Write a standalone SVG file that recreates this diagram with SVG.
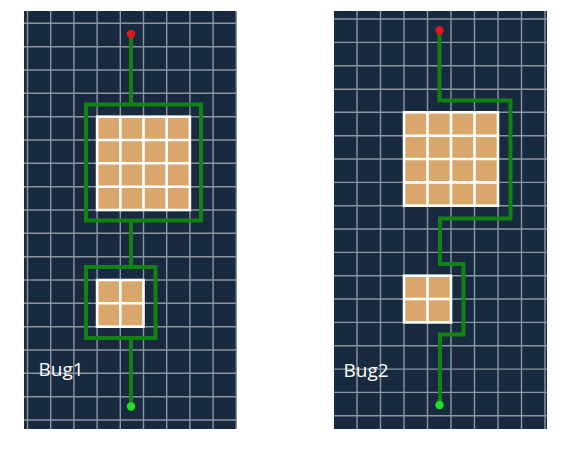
<svg xmlns="http://www.w3.org/2000/svg" width="569" height="454" viewBox="0 0 569 454">
<style>
.bg{fill:#172a40}
.grid{stroke:#ffffff;stroke-opacity:0.5;stroke-width:1.4;fill:none}
.tan{fill:#d9a76b;stroke:#ffffff;stroke-width:2.6}
.sep{stroke:#ffffff;stroke-width:2.6;fill:none}
.wire{stroke:#128212;stroke-width:4;fill:none;stroke-linejoin:miter}
.start{fill:#e3161c}
.end{fill:#22e022}
.lbl{font-family:"Open Sans","Liberation Sans",sans-serif;font-size:19px;font-weight:400;fill:#ffffff}
</style>
<rect width="569" height="454" fill="#ffffff"/>
<g id="panel-bug1">
<rect class="bg" x="24" y="11" width="213" height="418"/>
<path class="grid" d="M27.5 11V429M50.7 11V429M73.9 11V429M97.1 11V429M120.3 11V429M143.5 11V429M166.7 11V429M189.9 11V429M213.1 11V429M236.3 11V429M24 23.3H237M24 46.7H237M24 70H237M24 93.3H237M24 116.7H237M24 140H237M24 163.3H237M24 186.7H237M24 210H237M24 233.3H237M24 256.7H237M24 280H237M24 303.3H237M24 326.7H237M24 350H237M24 373.3H237M24 396.7H237M24 420H237"/>
</g>
<g id="panel-bug2">
<rect class="bg" x="334" y="11" width="213" height="418"/>
<path class="grid" d="M357 11V429M380.5 11V429M404 11V429M427.5 11V429M451 11V429M474.5 11V429M498 11V429M521.5 11V429M545 11V429M334 19H547M334 42.4H547M334 65.8H547M334 89.2H547M334 112.3H547M334 135.7H547M334 159H547M334 182.4H547M334 205.7H547M334 229H547M334 252.4H547M334 275.7H547M334 299H547M334 322.4H547M334 345.8H547M334 369.1H547M334 392.4H547M334 415.8H547"/>
</g>
<g id="connectors">
<path class="wire" d="M131 34V104.5M86 104.5H201V220.5H86ZM131 220.5V267M86 267H155.5V338H86ZM131 338V406.5"/>
<path class="wire" d="M439.5 31V100.5H510.5V218.5H440V264H463.5V334.5H440V405"/>
</g>
<g id="bug1-big-block">
<rect class="tan" x="97.1" y="116.7" width="92.8" height="93.3"/>
<path class="sep" d="M120.3 116.7V210M143.5 116.7V210M166.7 116.7V210M97.1 140H189.9M97.1 163.3H189.9M97.1 186.7H189.9"/>
</g>
<g id="bug1-small-block">
<rect class="tan" x="97.1" y="280" width="46.4" height="46.7"/>
<path class="sep" d="M120.3 280V326.7M97.1 303.3H143.5"/>
</g>
<g id="bug2-big-block">
<rect class="tan" x="404" y="112.3" width="94" height="93.4"/>
<path class="sep" d="M427.5 112.3V205.7M451 112.3V205.7M474.5 112.3V205.7M404 135.7H498M404 159H498M404 182.4H498"/>
</g>
<g id="bug2-small-block">
<rect class="tan" x="404" y="275.7" width="47" height="46.7"/>
<path class="sep" d="M427.5 275.7V322.4M404 299H451"/>
</g>
<g id="bug1-start"><circle class="start" cx="131" cy="34" r="4.2"/></g>
<g id="bug1-goal"><circle class="end" cx="131" cy="406.5" r="4.2"/></g>
<g id="bug2-start"><circle class="start" cx="439.5" cy="30.5" r="4.2"/></g>
<g id="bug2-goal"><circle class="end" cx="439.5" cy="405" r="4.2"/></g>
<g id="label-bug1"><text class="lbl" x="38.5" y="376">Bug1</text></g>
<g id="label-bug2"><text class="lbl" x="343.5" y="377">Bug2</text></g>
</svg>
